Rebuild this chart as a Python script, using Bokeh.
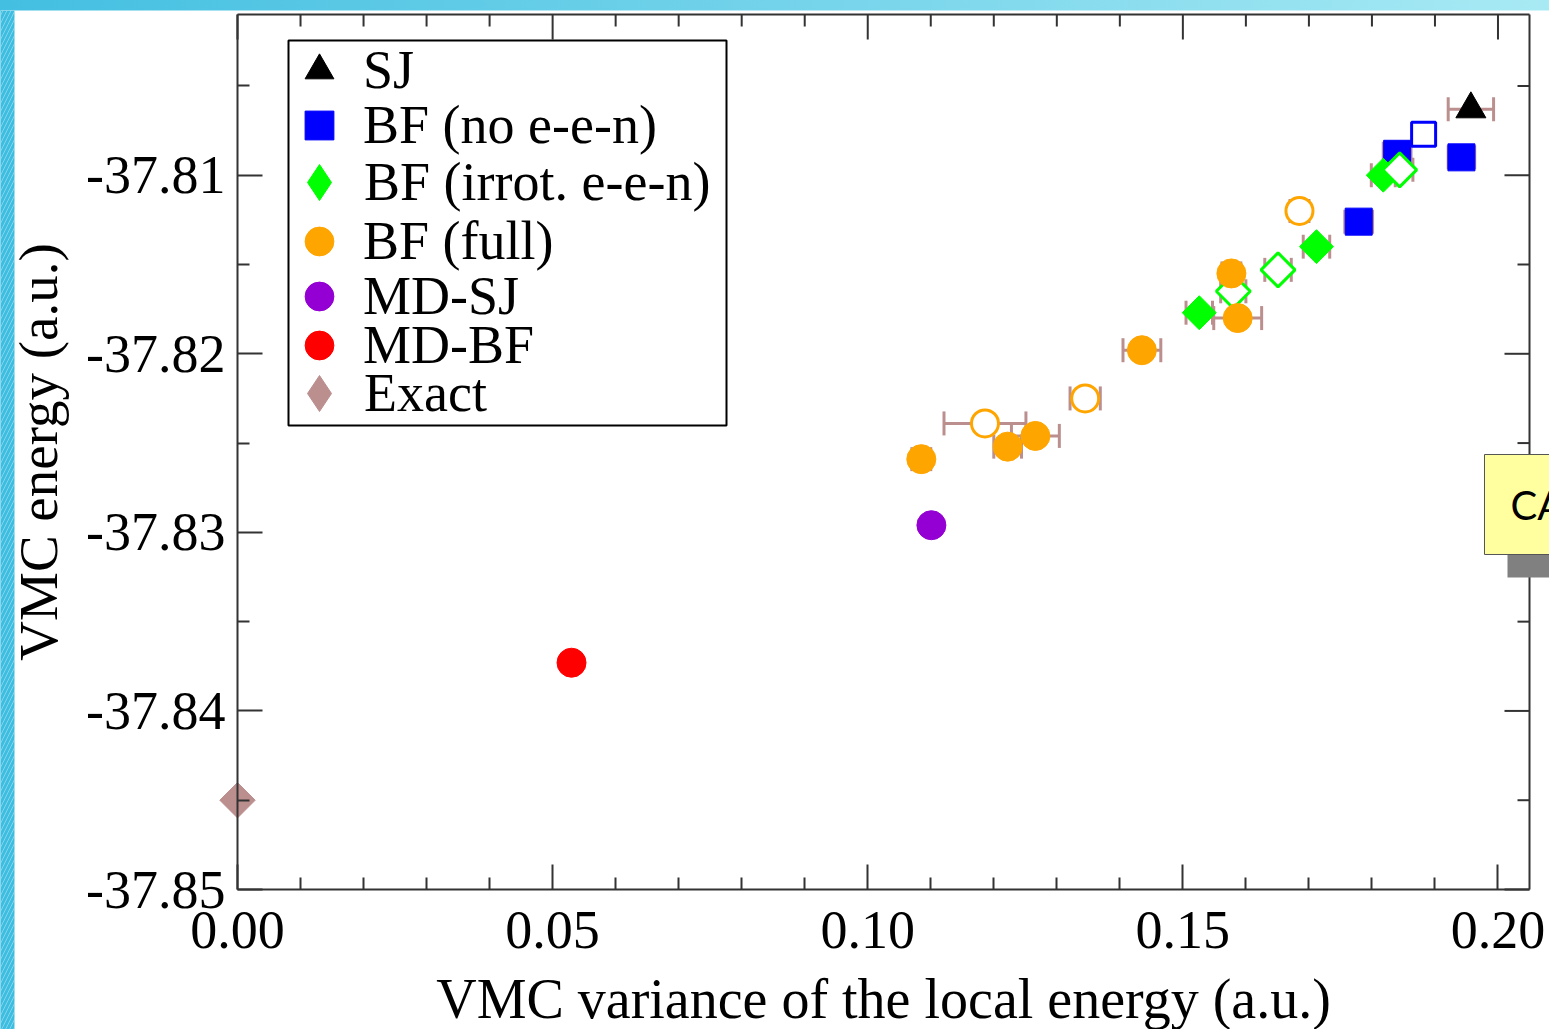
import math
from bokeh.plotting import figure
from bokeh.models import (ColumnDataSource, Whisker, TeeHead, FixedTicker, PrintfTickFormatter,
                          Legend, LegendItem, Label, Range1d, BoxAnnotation)
from bokeh.layouts import column
from bokeh.embed import file_html
from bokeh.resources import INLINE

# ---------------- data ----------------
X_TICKS = [0.00, 0.05, 0.10, 0.15, 0.20]
Y_TICKS = [-37.85, -37.84, -37.83, -37.82, -37.81]
X_MAX = 0.205
Y_MIN, Y_MAX = -37.85, -37.801

X_LABEL = "VMC variance of the local energy (a.u.)"
Y_LABEL = "VMC energy (a.u.)"

sj_x = [0.1957]
sj_y = [-37.8063]
sj_err = [0.0036]

bfn_x = [0.1840, 0.1942, 0.1779]
bfn_y = [-37.8088, -37.8090, -37.8126]
bfn_err = [0.0022, 0.0021, 0.0022]
bfn_open_x = [0.1882]
bfn_open_y = [-37.8077]
bfn_open_err = [0.0015]

bfi_x = [0.1818, 0.1712, 0.1526]
bfi_y = [-37.8100, -37.8140, -37.8177]
bfi_err = [0.0019, 0.0021, 0.0021]
bfi_open_x = [0.1844, 0.1651, 0.1580]
bfi_open_y = [-37.8097, -37.8153, -37.8165]
bfi_open_err = [0.0021, 0.0021, 0.0020]

bff_x = [0.1577, 0.1587, 0.1435, 0.1266, 0.1222, 0.1085]
bff_y = [-37.8155, -37.8180, -37.8198, -37.8246, -37.8252, -37.8259]
bff_err = [0.0015, 0.0038, 0.0030, 0.0038, 0.0022, 0.0015]
bff_open_x = [0.1685, 0.1345, 0.1186]
bff_open_y = [-37.8120, -37.8225, -37.8239]
bff_open_err = [0.0015, 0.0024, 0.0065]

mdsj_x = [0.1101]
mdsj_y = [-37.8296]
mdsj_err = [0.0010]

mdbf_x = [0.0530]
mdbf_y = [-37.8373]
mdbf_err = [0.0010]

exact_x = [0.0]
exact_y = [-37.8450]

LEGEND_LABELS = ["SJ", "BF (no e-e-n)", "BF (irrot. e-e-n)", "BF (full)",
                 "MD-SJ", "MD-BF", "Exact"]
BOX_TEXT = "CASINO"

# ---------------- style / geometry ----------------
AX_COLOR = "#333333"
ERR_COLOR = "#bc8f8f"
SERIF = "Liberation Serif"
BLUE, GREEN, ORANGE = "#0000ff", "#00ff00", "#ffa500"
PURPLE, RED, EXACT_C = "#9400d3", "#ff0000", "#bc8f8f"

FIG_W, FIG_H = 1549, 1019          # figure sits 10 px below page top
X0_PX, XR_PX = 237, 1529           # where x=0 and x=X_MAX fall (px from figure left)
YT_PX, YB_PX = 4, 879              # where Y_MAX and Y_MIN fall (px from figure top)

ppx = (XR_PX - X0_PX) / X_MAX
ppy = (YB_PX - YT_PX) / (Y_MAX - Y_MIN)
x_rng = Range1d(-X0_PX / ppx, X_MAX + (FIG_W - XR_PX) / ppx)
y_rng = Range1d(Y_MIN - (FIG_H - YB_PX) / ppy, Y_MAX + YT_PX / ppy)

p = figure(width=FIG_W, height=FIG_H, x_range=x_rng, y_range=y_rng,
           output_backend="svg", toolbar_location=None,
           min_border=0, min_border_left=0, min_border_right=0,
           min_border_top=0, min_border_bottom=0,
           background_fill_color="white", border_fill_color="white",
           outline_line_color=None)
p.margin = (10, 0, 0, 0)
p.xgrid.visible = False
p.ygrid.visible = False

# slide decoration: left cyan strip
p.add_layout(BoxAnnotation(left=0, right=14, left_units="screen", right_units="screen",
                           fill_color="#3dbde0", fill_alpha=1, line_color=None,
                           hatch_pattern="/", hatch_color="white", hatch_alpha=0.35,
                           hatch_scale=8, hatch_weight=1, level="underlay"))

x_minor = [round(i * 0.01, 2) for i in range(1, 20) if i % 5]
y_minor = [round(t + 0.005, 3) for t in Y_TICKS]


def style_axis(ax, ticks, minor):
    ax.ticker = FixedTicker(ticks=ticks, minor_ticks=minor)
    ax.formatter = PrintfTickFormatter(format="%.2f")
    ax.axis_line_color = AX_COLOR
    ax.axis_line_width = 2
    ax.major_tick_line_color = AX_COLOR
    ax.major_tick_line_width = 2
    ax.minor_tick_line_color = AX_COLOR
    ax.minor_tick_line_width = 2
    ax.major_tick_in = 25
    ax.major_tick_out = 0
    ax.minor_tick_in = 12
    ax.minor_tick_out = 0
    ax.major_label_text_font = SERIF
    ax.major_label_text_font_size = "54px"
    ax.major_label_text_color = "black"
    ax.major_label_standoff = 12


xb = p.xaxis[0]
style_axis(xb, X_TICKS, x_minor)
xb.fixed_location = Y_MIN
xb.bounds = (0, X_MAX)
xb.major_label_standoff = 22

yl = p.yaxis[0]
style_axis(yl, Y_TICKS, y_minor)
yl.fixed_location = 0
yl.bounds = (Y_MIN, Y_MAX)

# top and right frame edges with inward ticks
p.segment(x0=[0], y0=[Y_MAX], x1=[X_MAX], y1=[Y_MAX], line_color=AX_COLOR, line_width=2)
p.segment(x0=[X_MAX], y0=[Y_MIN], x1=[X_MAX], y1=[Y_MAX], line_color=AX_COLOR, line_width=2)
p.ray(x=X_TICKS, y=[Y_MAX] * len(X_TICKS), length=25, length_units="screen",
      angle=-math.pi / 2, line_color=AX_COLOR, line_width=2)
p.ray(x=x_minor, y=[Y_MAX] * len(x_minor), length=12, length_units="screen",
      angle=-math.pi / 2, line_color=AX_COLOR, line_width=2)
p.ray(x=[X_MAX] * len(Y_TICKS), y=Y_TICKS, length=25, length_units="screen",
      angle=math.pi, line_color=AX_COLOR, line_width=2)
p.ray(x=[X_MAX] * len(y_minor), y=y_minor, length=12, length_units="screen",
      angle=math.pi, line_color=AX_COLOR, line_width=2)

# axis titles
p.add_layout(Label(x=X_MAX / 2, y=31, x_units="data", y_units="screen", text=X_LABEL,
                   text_font=SERIF, text_font_size="56px", text_color="black",
                   text_align="center", text_baseline="alphabetic"))
p.add_layout(Label(x=38, y=(Y_MIN + Y_MAX) / 2, x_units="screen", y_units="data", text=Y_LABEL,
                   angle=math.pi / 2, text_font=SERIF, text_font_size="55px", text_color="black",
                   text_align="center", text_baseline="alphabetic"))

# error bars
all_x = sj_x + bfn_x + bfn_open_x + bfi_x + bfi_open_x + bff_x + bff_open_x + mdsj_x + mdbf_x
all_y = sj_y + bfn_y + bfn_open_y + bfi_y + bfi_open_y + bff_y + bff_open_y + mdsj_y + mdbf_y
all_e = sj_err + bfn_err + bfn_open_err + bfi_err + bfi_open_err + bff_err + bff_open_err + mdsj_err + mdbf_err
wsrc = ColumnDataSource(dict(base=all_y,
                             lower=[x - e for x, e in zip(all_x, all_e)],
                             upper=[x + e for x, e in zip(all_x, all_e)]))
whisk = Whisker(source=wsrc, base="base", lower="lower", upper="upper", dimension="width",
                line_color=ERR_COLOR, line_width=3, level="underlay",
                upper_head=TeeHead(size=24, line_color=ERR_COLOR, line_width=3),
                lower_head=TeeHead(size=24, line_color=ERR_COLOR, line_width=3))
p.add_layout(whisk)


def src(xs, ys):
    return ColumnDataSource(dict(x=xs, y=ys))


DIAMOND = math.pi / 4

r_sj = p.scatter("x", "y", source=src(sj_x, sj_y), marker="triangle", size=30,
                 fill_color="black", line_color="black", line_width=1)
r_bfn = p.scatter("x", "y", source=src(bfn_x, bfn_y), marker="square", size=27,
                  fill_color=BLUE, line_color=BLUE, line_width=1)
p.scatter("x", "y", source=src(bfn_open_x, bfn_open_y), marker="square", size=24,
          fill_color="white", line_color=BLUE, line_width=3)
# plain diamond markers (hidden under the rotated squares) serve the legend
r_bfi_leg = p.scatter("x", "y", source=src(bfi_x, bfi_y), marker="diamond", size=20,
                      fill_color=GREEN, line_color=GREEN, line_width=1)
p.scatter("x", "y", source=src(bfi_x, bfi_y), marker="square", angle=DIAMOND, size=24,
          fill_color=GREEN, line_color=GREEN, line_width=1)
p.scatter("x", "y", source=src(bfi_open_x, bfi_open_y), marker="square", angle=DIAMOND, size=24,
          fill_color="white", line_color=GREEN, line_width=3)
r_bff = p.scatter("x", "y", source=src(bff_x, bff_y), marker="circle", size=29,
                  fill_color=ORANGE, line_color=ORANGE, line_width=1)
p.scatter("x", "y", source=src(bff_open_x, bff_open_y), marker="circle", size=27,
          fill_color="white", line_color=ORANGE, line_width=3)
r_mdsj = p.scatter("x", "y", source=src(mdsj_x, mdsj_y), marker="circle", size=29,
                   fill_color=PURPLE, line_color=PURPLE, line_width=1)
r_mdbf = p.scatter("x", "y", source=src(mdbf_x, mdbf_y), marker="circle", size=29,
                   fill_color=RED, line_color=RED, line_width=1)
r_ex_leg = p.scatter("x", "y", source=src(exact_x, exact_y), marker="diamond", size=20,
                     fill_color=EXACT_C, line_color=EXACT_C, line_width=1)
p.scatter("x", "y", source=src(exact_x, exact_y), marker="square", angle=DIAMOND, size=25,
          fill_color=EXACT_C, line_color=EXACT_C, line_width=1)

# legend: framed box + one single-entry legend per row
LEG_LEFT, LEG_RIGHT, LEG_TOP, LEG_BOTTOM = 288, 726, 40, 425   # page px
ROW_CENTERS = [70, 125, 182, 241, 296, 345, 393]             # page px
PAGE_BOTTOM = 1029
p.add_layout(BoxAnnotation(left=LEG_LEFT, right=LEG_RIGHT,
                           top=PAGE_BOTTOM - LEG_TOP, bottom=PAGE_BOTTOM - LEG_BOTTOM,
                           left_units="screen", right_units="screen",
                           top_units="screen", bottom_units="screen",
                           fill_color="white", fill_alpha=1,
                           line_color="black", line_width=2, line_alpha=1))

renderers = [r_sj, r_bfn, r_bfi_leg, r_bff, r_mdsj, r_mdbf, r_ex_leg]
GLYPH_CX, LABEL_X = 319, 363
for lab, r, yc in zip(LEGEND_LABELS, renderers, ROW_CENTERS):
    g = 90 if r in (r_bfi_leg, r_ex_leg) else 72
    left = GLYPH_CX - g // 2
    leg = Legend(items=[LegendItem(label=lab, renderers=[r])],
                 location=(left, PAGE_BOTTOM - yc - g // 2),
                 glyph_width=g, glyph_height=g, spacing=0, padding=0,
                 label_standoff=max(0, LABEL_X - left - g),
                 label_text_font=SERIF, label_text_font_size="54px", label_text_color="black",
                 border_line_color=None, background_fill_alpha=0, margin=0)
    p.add_layout(leg)

# yellow slide box (partly off-page) with its grey shadow
p.add_layout(BoxAnnotation(left=1507, bottom=452, top=476, left_units="screen",
                           bottom_units="screen", top_units="screen",
                           fill_color="#808080", fill_alpha=1, line_color=None))
p.add_layout(Label(x=1484, y=525, x_units="screen", y_units="screen", text=BOX_TEXT,
                   text_font="Lato", text_font_size="40px", text_color="black",
                   text_baseline="middle", text_align="left", padding=26,
                   background_fill_color="#ffffa0", background_fill_alpha=1,
                   border_line_color="#555555", border_line_width=1))

page = column(p, styles={"background": "linear-gradient(90deg, #43bfe1 0%, #78d5eb 55%, #a8eaf4 100%)"})

open("out.html", "w").write(file_html(page, INLINE))
